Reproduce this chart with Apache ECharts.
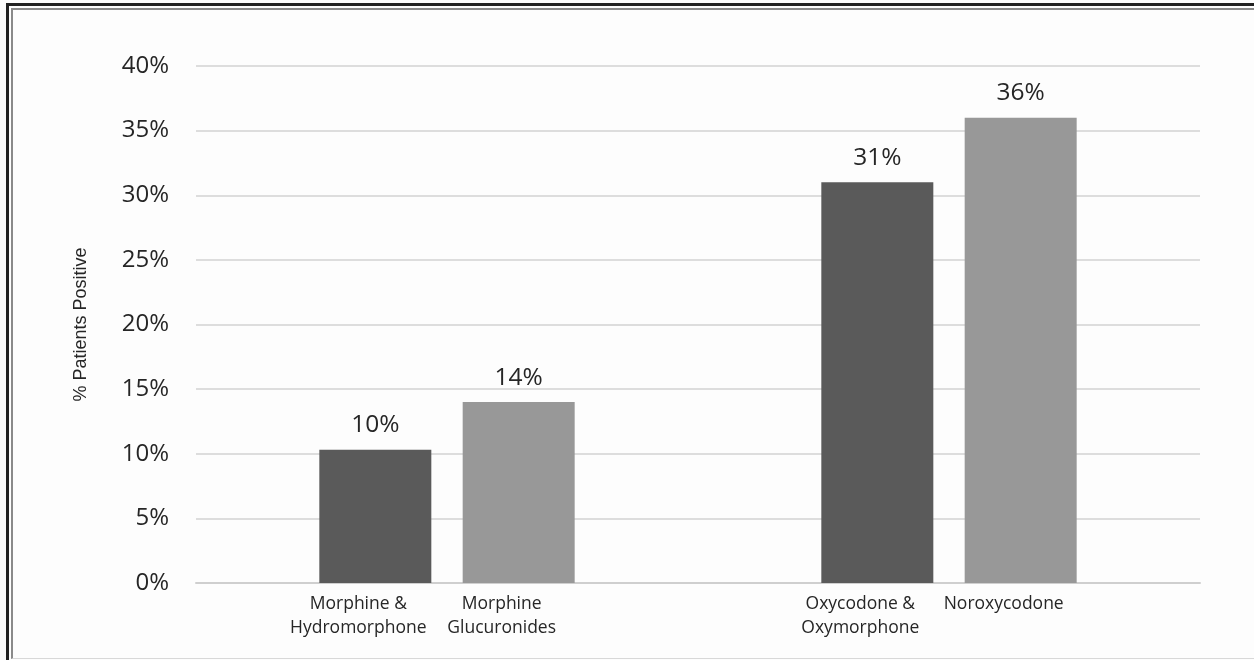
<!DOCTYPE html>
<html>
<head>
<meta charset="utf-8">
<title>% Patients Positive</title>
<script src="https://cdn.jsdelivr.net/npm/echarts@6/dist/echarts.min.js"></script>
<style>
  html, body { margin: 0; padding: 0; background: #fdfdfd; }
  body { width: 1254px; height: 660px; position: relative; overflow: hidden; }
  .frame-outer { position: absolute; left: 6px; top: 3px; width: 1400px; height: 800px;
    border-left: 3px solid #222; border-top: 3px solid #222; }
  .frame-inner { position: absolute; left: 11px; top: 8px; width: 1400px; height: 648px;
    border-left: 2px solid #8a8a8a; border-top: 2px solid #8a8a8a; border-bottom: 1px solid #d8d8d8; }
  #chart { position: absolute; left: 0; top: 0; width: 1254px; height: 660px; }
</style>
</head>
<body>
<div class="frame-outer"></div>
<div class="frame-inner"></div>
<div id="chart"></div>
<script>
// Two drug groups, each with a parent compound bar (dark) and a metabolite bar (light)
const groups = ['Morphine', 'Oxycodone'];
const parentNames = ['Morphine &\nHydromorphone', 'Oxycodone &\nOxymorphone'];
const metaboliteNames = ['Morphine\nGlucuronides', 'Noroxycodone'];
const parentValues = [10.3, 31];
const metaboliteValues = [14, 36];

const textColor = '#262626';
const labelFont = 'Open Sans';

// zero-height bars stacked under each real bar carry the per-bar category names
function nameSeries(stack, names) {
  return {
    type: 'bar',
    stack: stack,
    barWidth: 112,
    data: names.map(() => 0),
    itemStyle: { color: 'transparent' },
    silent: true,
    label: {
      show: true,
      position: 'bottom',
      distance: 9,
      offset: [-17, 0],
      formatter: (p) => names[p.dataIndex],
      color: textColor,
      fontFamily: labelFont,
      fontSize: 17.5,
      lineHeight: 24
    }
  };
}

function valueSeries(stack, values, color) {
  return {
    type: 'bar',
    stack: stack,
    barWidth: 112,
    barGap: '28%',
    data: values,
    itemStyle: { color: color },
    label: {
      show: true,
      position: 'top',
      distance: 12,
      formatter: (p) => Math.round(p.value) + '%',
      color: textColor,
      fontFamily: labelFont,
      fontSize: 24.5
    }
  };
}

const chart = echarts.init(document.getElementById('chart'), null, { renderer: 'canvas' });
chart.setOption({
  backgroundColor: 'transparent',
  animation: false,
  grid: { left: 196, right: 54, top: 66, bottom: 77, containLabel: false },
  xAxis: {
    type: 'category',
    data: groups,
    axisLine: { show: true, lineStyle: { color: '#cfcfcf', width: 2 } },
    axisTick: { show: false },
    axisLabel: { show: false }
  },
  yAxis: {
    type: 'value',
    min: 0,
    max: 40,
    interval: 5,
    name: '% Patients Positive',
    nameLocation: 'middle',
    nameRotate: 90,
    nameGap: 106,
    nameTextStyle: { color: textColor, fontFamily: 'Liberation Sans', fontSize: 18 },
    axisLine: { show: false },
    axisTick: { show: false },
    axisLabel: {
      formatter: '{value}%',
      margin: 27,
      color: textColor,
      fontFamily: labelFont,
      fontSize: 24
    },
    splitLine: { lineStyle: { color: '#d2d2d2', width: 1.5 } }
  },
  series: [
    nameSeries('parent', parentNames),
    valueSeries('parent', parentValues, '#5a5a5a'),
    nameSeries('metabolite', metaboliteNames),
    valueSeries('metabolite', metaboliteValues, '#989898')
  ]
});
</script>
</body>
</html>
